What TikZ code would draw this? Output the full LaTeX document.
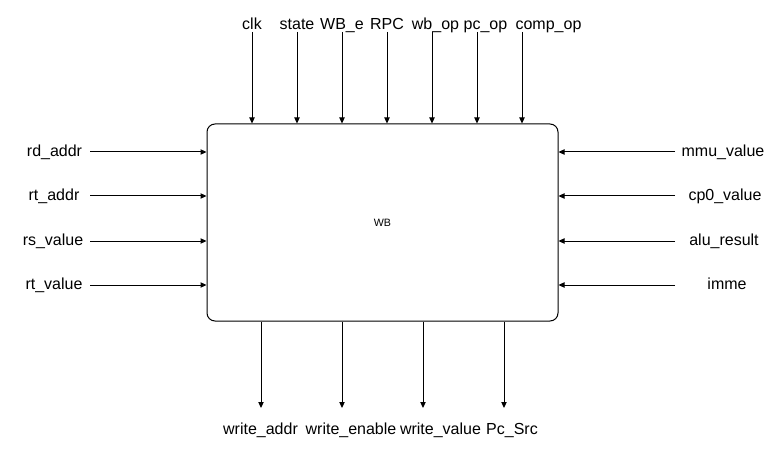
\documentclass[tikz,border=0pt]{standalone}
\usepackage{fontspec}
\setmainfont{Liberation Sans}
\usetikzlibrary{arrows.meta}

\tikzset{
  sig/.style={-{Triangle[length=4.5pt,width=4pt]}, line width=0.75pt},
  lbl/.style={inner sep=0.75pt, anchor=base, font=\fontsize{12}{14}\selectfont},
}

\begin{document}
\begin{tikzpicture}[x=0.75pt,y=0.75pt,yscale=-1,xscale=1]
    \useasboundingbox (0,0) rectangle (783,453);

    %Shape: Rounded Rectangle [id:wb]
    \node [draw, line width=0.75pt, rounded corners=6pt, inner sep=0pt, minimum width=263.25pt, minimum height=147.75pt, font=\fontsize{8}{10}\selectfont] (wb) at (382.5,222.5) {WB};

    % Top inputs
    \coordinate (clk) at (252,32);
    \coordinate (state) at (297,32);
    \coordinate (wbe) at (342,32);
    \coordinate (rpc) at (387,32);
    \coordinate (wbop) at (432,32);
    \coordinate (pcop) at (477,32);
    \coordinate (compop) at (522,32);
    % Text Node
    \node [lbl] (clklbl) at (252,29.5) {clk};
    % Text Node
    \node [lbl] (statelbl) at (297,29.5) {state};
    % Text Node
    \node [lbl] (wbelbl) at (342,29.5) {WB\_e};
    % Text Node
    \node [lbl] (rpclbl) at (387,29.5) {RPC};
    % Text Node
    \node [lbl] (wboplbl) at (435.5,29.5) {wb\_op};
    % Text Node
    \node [lbl] (pcoplbl) at (485.5,29.5) {pc\_op};
    % Text Node
    \node [lbl] (compoplbl) at (548.5,29.5) {comp\_op};
    \draw [sig] (clk) -- (clk |- wb.north);
    \draw [sig] (state) -- (state |- wb.north);
    \draw [sig] (wbe) -- (wbe |- wb.north);
    \draw [sig] (rpc) -- (rpc |- wb.north);
    \draw [sig] (wbop) -- (wbop |- wb.north);
    \draw [sig] (pcop) -- (pcop |- wb.north);
    \draw [sig] (compop) -- (compop |- wb.north);

    % Left inputs
    \coordinate (rdaddr) at (90,152);
    \coordinate (rtaddr) at (90,196);
    \coordinate (rsvalue) at (90,241);
    \coordinate (rtvalue) at (90,285);
    % Text Node
    \node [lbl] (rdaddrlbl) at (54.5,156.5) {rd\_addr};
    % Text Node
    \node [lbl] (rtaddrlbl) at (54,200.5) {rt\_addr};
    % Text Node
    \node [lbl] (rsvaluelbl) at (53,245.5) {rs\_value};
    % Text Node
    \node [lbl] (rtvaluelbl) at (54,289.5) {rt\_value};
    \draw [sig] (rdaddr) -- (rdaddr -| wb.west);
    \draw [sig] (rtaddr) -- (rtaddr -| wb.west);
    \draw [sig] (rsvalue) -- (rsvalue -| wb.west);
    \draw [sig] (rtvalue) -- (rtvalue -| wb.west);

    % Right inputs
    \coordinate (mmuvalue) at (675,152);
    \coordinate (cpvalue) at (675,196);
    \coordinate (aluresult) at (675,241);
    \coordinate (imme) at (675,285);
    % Text Node
    \node [lbl] (mmuvaluelbl) at (723,156.5) {mmu\_value};
    % Text Node
    \node [lbl] (cpvaluelbl) at (725,200.5) {cp0\_value};
    % Text Node
    \node [lbl] (aluresultlbl) at (724,245.5) {alu\_result};
    % Text Node
    \node [lbl] (immelbl) at (727,289.5) {imme};
    \draw [sig] (mmuvalue) -- (mmuvalue -| wb.east);
    \draw [sig] (cpvalue) -- (cpvalue -| wb.east);
    \draw [sig] (aluresult) -- (aluresult -| wb.east);
    \draw [sig] (imme) -- (imme -| wb.east);

    % Bottom outputs
    \coordinate (writeaddr) at (261,408);
    \coordinate (writeenable) at (342,408);
    \coordinate (writevalue) at (423,408);
    \coordinate (pcsrc) at (504,408);
    % Text Node
    \node [lbl] (writeaddrlbl) at (260.5,434.5) {write\_addr};
    % Text Node
    \node [lbl] (writeenablelbl) at (351,434.5) {write\_enable};
    % Text Node
    \node [lbl] (writevaluelbl) at (440.5,434.5) {write\_value};
    % Text Node
    \node [lbl] (pcsrclbl) at (512,434.5) {Pc\_Src};
    \draw [sig] (wb.south -| writeaddr) -- (writeaddr);
    \draw [sig] (wb.south -| writeenable) -- (writeenable);
    \draw [sig] (wb.south -| writevalue) -- (writevalue);
    \draw [sig] (wb.south -| pcsrc) -- (pcsrc);

\end{tikzpicture}
\end{document}
